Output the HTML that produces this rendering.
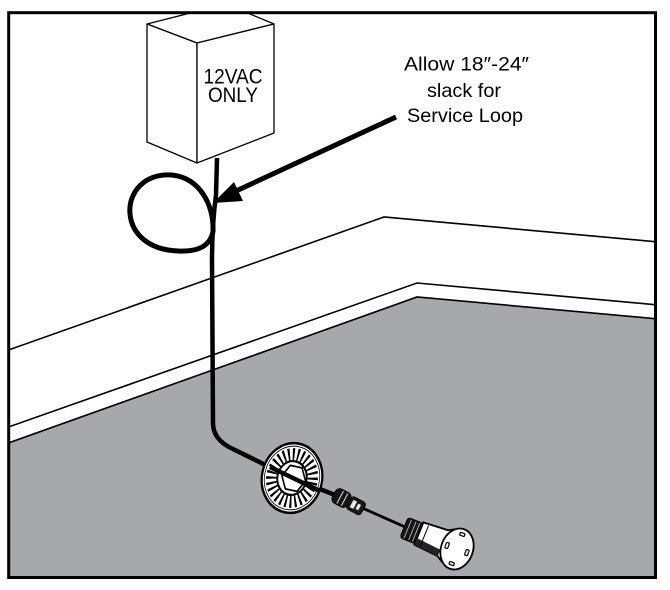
<!DOCTYPE html>
<html><head><meta charset="utf-8"><style>
html,body{margin:0;padding:0;background:#fff;}
svg{display:block;}
text{font-family:"Liberation Sans","DejaVu Sans",sans-serif;fill:#000;}
</style></head><body>
<svg width="670" height="590" viewBox="0 0 670 590" xmlns="http://www.w3.org/2000/svg">
<defs><clipPath id="fr"><rect x="9" y="13" width="646" height="564"/></clipPath></defs>
<rect x="0" y="0" width="670" height="590" fill="#fff"/>
<g clip-path="url(#fr)">
  <polygon points="0,446 417,297 670,320 670,590 0,590" fill="#a7a8ac" stroke="#000" stroke-width="1.6"/>
  <polyline points="0,353 384,217 670,243" fill="none" stroke="#000" stroke-width="1.6"/>
  <polyline points="0,430 417,283 670,306" fill="none" stroke="#000" stroke-width="1.6"/>
  <g fill="#fff" stroke="#000" stroke-width="1.3" stroke-linejoin="round">
    <polygon points="147,24 226,4 274,24 197,43"/>
    <polygon points="147,24 197,43 197,163 147,142"/>
    <polygon points="197,43 274,24 274,133 197,163"/>
  </g>
</g>
<text x="233" y="83.5" font-size="21" text-anchor="middle" textLength="59" lengthAdjust="spacingAndGlyphs">12VAC</text>
<text x="233" y="102" font-size="21" text-anchor="middle" textLength="50" lengthAdjust="spacingAndGlyphs">ONLY</text>
<text x="466.5" y="70.5" font-size="19.5" text-anchor="middle" textLength="125" lengthAdjust="spacingAndGlyphs">Allow 18″-24″</text>
<text x="464" y="97" font-size="19.5" text-anchor="middle" textLength="74" lengthAdjust="spacingAndGlyphs">slack for</text>
<text x="465" y="122" font-size="19.5" text-anchor="middle" textLength="116" lengthAdjust="spacingAndGlyphs">Service Loop</text>

<!-- wire -->
<path d="M217,158 L216,195 Q212,225 212,260 L213,423 Q213,440 233,449 L292,478 L340,497" fill="none" stroke="#000" stroke-width="4.5"/>
<path d="M360,507 L412,530" fill="none" stroke="#000" stroke-width="2.8"/>
<!-- loop -->
<path d="M213,232 C214,205 200,178 172,175 C145,173 128,192 130,214 C132,235 150,250 178,251 C200,252 210,245 213,232" fill="none" stroke="#000" stroke-width="5"/>

<!-- arrow -->
<line x1="396" y1="117" x2="236" y2="191" stroke="#000" stroke-width="5"/>
<polygon points="213,203 234,182 243,201" fill="#000"/>

<!-- ring -->
<g transform="translate(292,478) rotate(12) scale(0.86,1)">
  <circle r="35" fill="#fff" stroke="#000" stroke-width="2.6"/>
  <circle r="32" fill="none" stroke="#000" stroke-width="0.9"/>
  <circle r="24" fill="none" stroke="#000" stroke-width="12" stroke-dasharray="2.2 3.2"/>
  <circle r="17" fill="#fff" stroke="#000" stroke-width="2.2"/>
  <polygon points="14,0 7,12 -7,12 -14,0 -7,-12 7,-12" fill="#fff" stroke="#000" stroke-width="1.8" transform="translate(2,0)"/>
</g>
<line x1="270" y1="467" x2="320" y2="491" stroke="#000" stroke-width="4.5"/>

<!-- connector -->
<g transform="translate(349,502) rotate(28)">
  <rect x="-17" y="-8" width="17" height="16" rx="5" fill="#151515" stroke="#000" stroke-width="1"/>
  <line x1="-10" y1="-7" x2="-10" y2="7" stroke="#ddd" stroke-width="1"/>
  <line x1="-5" y1="-7" x2="-5" y2="7" stroke="#ddd" stroke-width="1"/>
  <rect x="0" y="-7" width="16" height="14" rx="3" fill="#1a1a1a" stroke="#000" stroke-width="1"/>
  <rect x="3" y="-4" width="4" height="8" fill="#eee"/>
  <rect x="9" y="-3" width="3" height="6" fill="#eee"/>
</g>

<!-- light body -->
<g transform="translate(430,538) rotate(22)">
  <rect x="-28" y="-11" width="17" height="22" rx="3" fill="#151515" stroke="#000" stroke-width="1"/>
  <line x1="-24" y1="-10" x2="-24" y2="10" stroke="#ccc" stroke-width="0.8"/>
  <line x1="-19" y1="-10" x2="-19" y2="10" stroke="#ccc" stroke-width="0.8"/>
  <line x1="-15" y1="-10" x2="-15" y2="10" stroke="#ccc" stroke-width="0.8"/>
  <path d="M-12,-12 L14,-14 Q20,-18 24,-19 L24,19 Q20,18 14,14 L-12,12 Z" fill="#fff" stroke="#000" stroke-width="1.8"/>
  <path d="M-12,5 L14,7 L14,14 L-12,12 Z" fill="#222"/>
  <line x1="-6" y1="-11" x2="-6" y2="11" stroke="#000" stroke-width="1"/>
</g>
<g transform="translate(457,549) rotate(20)">
  <ellipse rx="16" ry="21" fill="#fff" stroke="#000" stroke-width="1.8"/>
  <rect x="-2.5" y="-17" width="5" height="3" rx="1" fill="none" stroke="#000" stroke-width="1.2"/>
  <rect x="-2.5" y="14" width="5" height="3" rx="1" fill="none" stroke="#000" stroke-width="1.2"/>
  <rect x="-12" y="-3" width="3" height="6" rx="1" fill="none" stroke="#000" stroke-width="1.2"/>
  <rect x="9" y="-3" width="3" height="6" rx="1" fill="none" stroke="#000" stroke-width="1.2"/>
</g>

<rect x="8.7" y="12.7" width="646.8" height="564.8" fill="none" stroke="#000" stroke-width="3"/>
</svg>
</body></html>
